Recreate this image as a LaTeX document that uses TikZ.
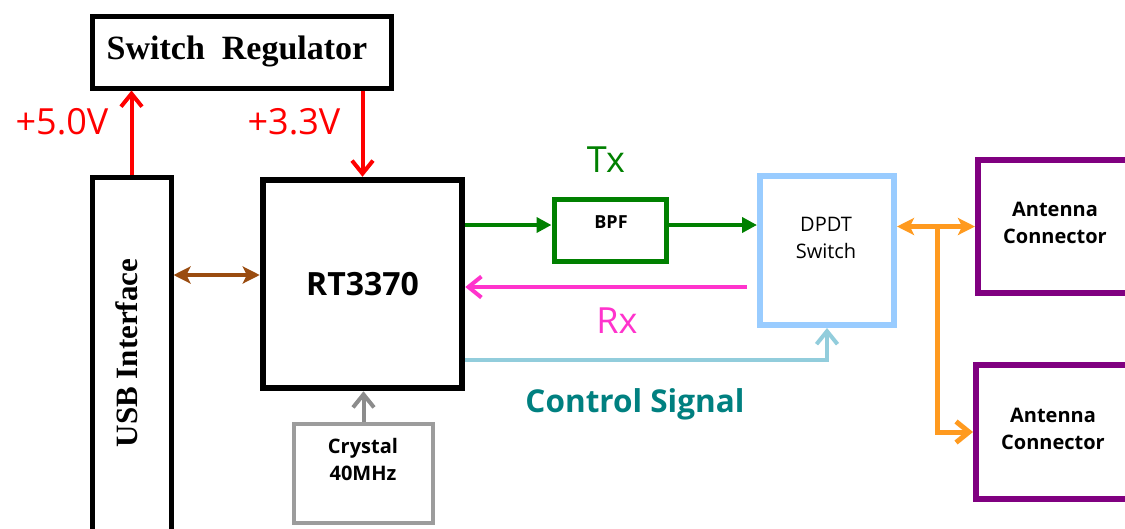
\documentclass[tikz,border=0pt]{standalone}
\usepackage{fontspec}
\setmainfont{Open Sans}
\newfontfamily\tnr{Liberation Serif}
\usetikzlibrary{arrows.meta,calc}
\definecolor{txgreen}{HTML}{008000}
\definecolor{rxpink}{HTML}{FF33CC}
\definecolor{ctlblue}{HTML}{92CDDC}
\definecolor{ctlteal}{HTML}{008080}
\definecolor{dpdtblue}{HTML}{99CCFF}
\definecolor{antpurple}{HTML}{800080}
\definecolor{orangeln}{HTML}{FF9A1F}
\definecolor{brownln}{HTML}{9A4C10}
\definecolor{crysgray}{HTML}{9C9C9C}
\definecolor{arrgray}{HTML}{8C8C8C}
\begin{document}
\begin{tikzpicture}[x=1pt,y=-1pt,
  box/.style={draw, inner sep=0pt},
  conn/.style={line width=4pt},
  barb/.style={-{Straight Barb[length=13pt,width=21pt]}},
  stealthboth/.style={{Stealth[length=17pt,width=17pt,inset=4pt]}-{Stealth[length=17pt,width=17pt,inset=4pt]}},
  tri/.style={-{Triangle[length=15pt,width=15pt]}},
  lbl/.style={font=\fontsize{36}{40}\selectfont},
  two/.style={font=\bfseries\fontsize{20}{27}\selectfont, align=center}
]
\useasboundingbox (0,0) rectangle (1125,528);
\clip (0,0) rectangle (1125,528);

% boxes
\node[box, line width=5pt, minimum width=299pt, minimum height=72pt] (reg) at (241.5,52) {};
\node[font=\tnr\bfseries\fontsize{34}{40}\selectfont] (regt) at (237,51) {Switch\ \ Regulator};
\node[box, line width=5pt, minimum width=79pt, minimum height=383pt] (usb) at (131.5,368.5) {};
\node[rotate=90, font=\tnr\bfseries\fontsize{31}{36}\selectfont] (usbt) at (127,353) {USB Interface};
\node[box, line width=6.5pt, minimum width=199pt, minimum height=208pt,
      font=\bfseries\fontsize{32}{38}\selectfont] (rt) at (362.5,284) {RT3370};
\node[box, draw=crysgray, line width=4pt, minimum width=139pt, minimum height=99pt] (crys) at (363.5,473.5) {};
\node[two] (cryst) at (363,459) {Crystal\\40MHz};
\node[box, draw=txgreen, line width=5pt, minimum width=112pt, minimum height=62pt] (bpf) at (610,230) {};
\node[font=\bfseries\fontsize{18}{22}\selectfont] (bpft) at (611,222) {BPF};
\node[box, draw=dpdtblue, line width=6pt, minimum width=134pt, minimum height=149pt] (dpdt) at (827,250.5) {};
\node[font=\fontsize{20}{27}\selectfont, align=center] (dpdtt) at (826,238) {DPDT\\Switch};
\node[box, draw=antpurple, line width=6pt, minimum width=154pt, minimum height=133pt] (ant1) at (1055,226.5) {};
\node[two] (ant1t) at (1055,223) {Antenna\\Connector};
\node[box, draw=antpurple, line width=6pt, minimum width=156pt, minimum height=134pt] (ant2) at (1054,432) {};
\node[two] (ant2t) at (1053,429) {Antenna\\Connector};

% labels
\node[lbl, text=red] (v5) at (62,122) {+5.0V};
\node[lbl, text=red] (v33) at (294,122) {+3.3V};
\node[lbl, text=txgreen] (txl) at (606,160) {Tx};
\node[lbl, text=rxpink] (rxl) at (617,321) {Rx};
\node[font=\bfseries\fontsize{31.5}{36}\selectfont, text=ctlteal] (ctll) at (635,404) {Control Signal};

% connectors
\draw[conn, red, barb] (usb.north) -- (usb.north |- reg.south);
\draw[conn, red, barb] (rt.north |- reg.south) -- (rt.north);

\coordinate (bp) at ([yshift=9pt]rt.west);
\draw[conn, brownln, stealthboth] (usb.east |- bp) -- (bp);

\coordinate (txa) at ([yshift=5pt]bpf.west);
\draw[conn, txgreen, tri] (rt.east |- txa) -- (txa);
\draw[conn, txgreen, tri] (bpf.east |- txa) -- (dpdt.west |- txa);

\coordinate (rxa) at ([yshift=-3pt]rt.east);
\coordinate (rxs) at ([xshift=-10pt]dpdt.west);
\draw[conn, rxpink, barb] (rxs |- rxa) -- (rxa);

\coordinate (csy) at ([yshift=31pt]rt.south east);
\draw[conn, ctlblue, barb] (rt.east |- csy) -- (dpdt.south |- csy) -- (dpdt.south);

\draw[conn, arrgray, barb] (crys.north) -- (crys.north |- rt.south);

\coordinate (oj) at ($(dpdt.east |- ant1.west)!0.52!(ant1.west)$);
\draw[line width=5pt, orangeln, stealthboth] (dpdt.east |- ant1.west) -- (ant1.west);
\draw[line width=5pt, orangeln, barb] (oj) |- (ant2.west);
\end{tikzpicture}
\end{document}
